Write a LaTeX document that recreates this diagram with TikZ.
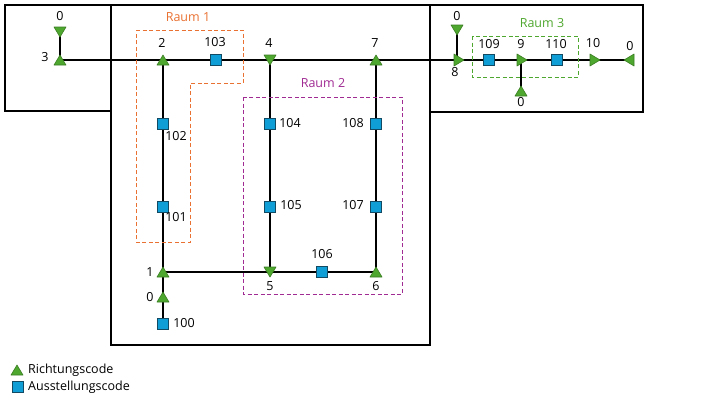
\documentclass[tikz,border=0pt]{standalone}
\usepackage{fontspec}
\setmainfont{Open Sans}
\usetikzlibrary{backgrounds}
\definecolor{trig}{HTML}{4EA72E}
\definecolor{trid}{HTML}{3B7D23}
\definecolor{sqb}{HTML}{0F9ED5}
\definecolor{sqd}{HTML}{124A63}
\definecolor{rorange}{HTML}{E97132}
\definecolor{rmag}{HTML}{A02B93}
\definecolor{rgreen}{HTML}{4EA72E}
\tikzset{
  lbl/.style={inner sep=0pt, font=\fontsize{12.5pt}{14pt}\selectfont},
  tribox/.style={rectangle, inner sep=0pt, minimum width=13.4pt, minimum height=11.4pt},
  tribox v/.style={rectangle, inner sep=0pt, minimum width=11.4pt, minimum height=13.4pt},
  trist/.style={fill=trig, draw=trid, line width=0.6pt, line join=round},
  tup/.style={tribox, path picture={\draw[trist]
     ([shift={(0.7pt,0.7pt)}]path picture bounding box.south west) --
     ([shift={(-0.7pt,0.7pt)}]path picture bounding box.south east) --
     ([shift={(0pt,-0.7pt)}]path picture bounding box.north) -- cycle;}},
  tdown/.style={tribox, path picture={\draw[trist]
     ([shift={(0.7pt,-0.7pt)}]path picture bounding box.north west) --
     ([shift={(-0.7pt,-0.7pt)}]path picture bounding box.north east) --
     ([shift={(0pt,0.7pt)}]path picture bounding box.south) -- cycle;}},
  tright/.style={tribox v, path picture={\draw[trist]
     ([shift={(0.7pt,0.7pt)}]path picture bounding box.south west) --
     ([shift={(0.7pt,-0.7pt)}]path picture bounding box.north west) --
     ([shift={(-0.7pt,0pt)}]path picture bounding box.east) -- cycle;}},
  tleft/.style={tribox v, path picture={\draw[trist]
     ([shift={(-0.7pt,0.7pt)}]path picture bounding box.south east) --
     ([shift={(-0.7pt,-0.7pt)}]path picture bounding box.north east) --
     ([shift={(0.7pt,0pt)}]path picture bounding box.west) -- cycle;}},
  sq/.style={rectangle, inner sep=0pt, minimum size=10.6pt, fill=sqb, draw=sqd, line width=0.7pt},
  conn/.style={draw=black, line width=1.1pt},
  wall/.style={draw=black, line width=1.1pt},
  room/.style={line width=0.9pt, dash pattern=on 4pt off 2.5pt},
}
\begin{document}
\begin{tikzpicture}[x=1pt,y=-1pt]
\useasboundingbox (0,0) rectangle (720,405);
% walls
\draw[wall] (5,5) rectangle (111,111);
\draw[wall] (111,5) rectangle (430,345);
\draw[wall] (430,5) rectangle (643,112);
% rooms
\draw[room, draw=rorange] (136,30) -- (243,30) -- (243,83) -- (190,83) -- (190,242) -- (136,242) -- cycle;
\draw[room, draw=rmag] (243,97) rectangle (402,294);
\draw[room, draw=rgreen] (472,36) rectangle (578,77);
\node[lbl, text=rorange] (r1) at (188,17) {Raum 1};
\node[lbl, text=rmag] (r2) at (323,83) {Raum 2};
\node[lbl, text=rgreen] (r3) at (542,23) {Raum 3};
% nodes
\node[tdown] (z3) at (60,32) {};
\node[tup] (n3) at (60,60) {};
\node[tup] (n2) at (163,60) {};
\node[sq] (s103) at (216,60) {};
\node[tdown] (n4) at (270,60) {};
\node[tup] (n7) at (376,60) {};
\node[tdown] (z8) at (457,30) {};
\node[tright] (n8) at (459,60) {};
\node[sq] (s109) at (489,60) {};
\node[tright] (n9) at (522,60) {};
\node[tup] (z9) at (521,91) {};
\node[sq] (s110) at (557,60) {};
\node[tright] (n10) at (595,60) {};
\node[tleft] (z10) at (629,60) {};
\node[sq] (s102) at (163,124) {};
\node[sq] (s101) at (163,207) {};
\node[tup] (n1) at (163,272) {};
\node[tup] (z1) at (163,297) {};
\node[sq] (s100) at (163,324) {};
\node[sq] (s104) at (270,124) {};
\node[sq] (s105) at (270,207) {};
\node[tdown] (n5) at (270,272) {};
\node[sq] (s106) at (322,272) {};
\node[tup] (n6) at (376,272) {};
\node[sq] (s108) at (376,124) {};
\node[sq] (s107) at (376,207) {};
% connectors
\begin{scope}[on background layer]
\draw[conn] (z3.center) -- (n3.center);
\draw[conn] (n3.center) -- (n2.center) -- (s103.center) -- (n4.center) -- (n7.center) -- (n8.center) -- (s109.center) -- (n9.center) -- (s110.center) -- (n10.center) -- (z10.center);
\draw[conn] (z8.center) -- (z8.center |- n8.center);
\draw[conn] (z9.center |- n9.center) -- (z9.center);
\draw[conn] (n2.center) -- (s102.center) -- (s101.center) -- (n1.center) -- (z1.center) -- (s100.center);
\draw[conn] (n1.center) -- (n5.center) -- (s106.center) -- (n6.center);
\draw[conn] (n4.center) -- (s104.center) -- (s105.center) -- (n5.center);
\draw[conn] (n7.center) -- (s108.center) -- (s107.center) -- (n6.center);
\end{scope}
% labels
\node[lbl] (l0a) at (60,16) {0};
\node[lbl] (l3) at (45,57) {3};
\node[lbl] (l2) at (162,43) {2};
\node[lbl] (l103) at (215,42) {103};
\node[lbl] (l4) at (269,43) {4};
\node[lbl] (l7) at (375,43) {7};
\node[lbl] (l0b) at (457,16) {0};
\node[lbl] (l8) at (455,72) {8};
\node[lbl] (l109) at (489,44) {109};
\node[lbl] (l9) at (521,44) {9};
\node[lbl] (l110) at (556,44) {110};
\node[lbl] (l10) at (593,43) {10};
\node[lbl] (l0e) at (630,46) {0};
\node[lbl] (l0c) at (521,102) {0};
\node[lbl] (l102) at (176,136) {102};
\node[lbl] (l101) at (176,217) {101};
\node[lbl] (l104) at (290,123) {104};
\node[lbl] (l105) at (291,205) {105};
\node[lbl] (l108) at (353,123) {108};
\node[lbl] (l107) at (353,205) {107};
\node[lbl] (l106) at (322,254) {106};
\node[lbl] (l1) at (150,272) {1};
\node[lbl] (l0d) at (150,297) {0};
\node[lbl] (l100) at (184,323) {100};
\node[lbl] (l5) at (270,286) {5};
\node[lbl] (l6) at (376,286) {6};
% legend
\node[tup] (legt) at (17,370) {};
\node[lbl, anchor=west] (legtl) at (28,370) {Richtungscode};
\node[sq] (legs) at (18,387) {};
\node[lbl, anchor=west] (legsl) at (28,387) {Ausstellungscode};
\end{tikzpicture}
\end{document}
